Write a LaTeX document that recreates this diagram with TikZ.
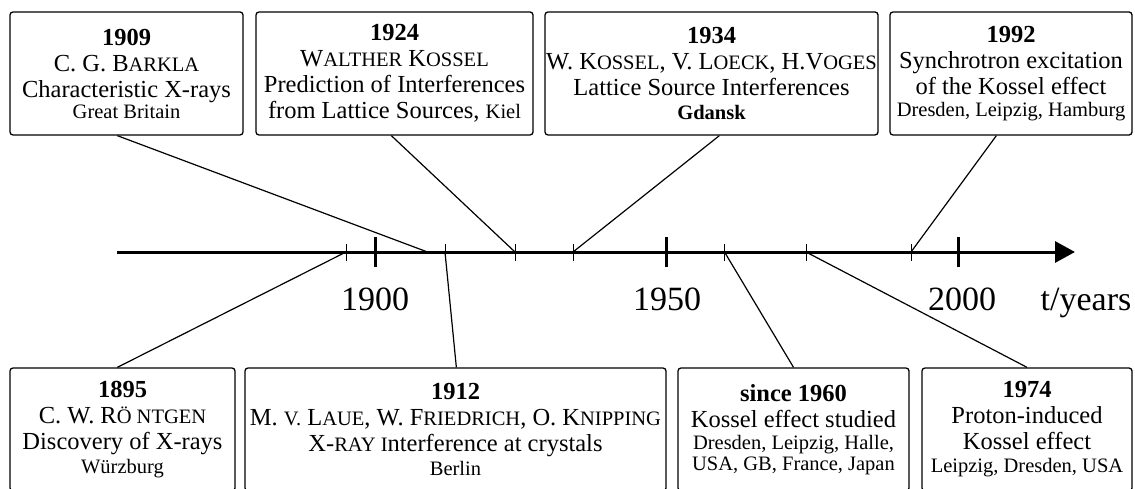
\documentclass[tikz,border=0pt]{standalone}
\usepackage{fontspec}
\setmainfont{Liberation Serif}
\usetikzlibrary{arrows.meta}

\newcommand{\mainsize}{\fontsize{24.5}{26}\selectfont}
\newcommand{\placesize}{\fontsize{20.5}{22}\selectfont}
\newcommand{\fsc}[1]{{\fontsize{20.5}{22}\selectfont\MakeUppercase{#1}}}

\begin{document}
\begin{tikzpicture}[x=1pt,y=-1pt,
    eventbox/.style={draw,rounded corners=3pt,line width=1.3pt,align=center,
                     font=\mainsize,inner sep=0pt,minimum height=123pt},
    link/.style={line width=1.2pt},
    axisline/.style={line width=3pt,-{Triangle[length=20pt,width=21pt]}},
    majortick/.style={line width=3pt},
    minortick/.style={line width=1pt},
    yearlabel/.style={font=\fontsize{34}{34}\selectfont,anchor=base,inner sep=0pt}]
    \useasboundingbox (0,0) rectangle (1135,489);
    \clip (0,0) rectangle (1135,489);

    % events above the axis
    \node[eventbox,minimum width=233pt] (b1909) at (126.5,73.5)
        {\textbf{1909}\\ C. G. B\fsc{arkla}\\ Characteristic X-rays\\[-5pt] {\placesize Great Britain}};
    \node[eventbox,minimum width=277pt] (b1924) at (394.5,73.5)
        {\textbf{1924}\\ W\fsc{alther} K\fsc{ossel}\\ Prediction of Interferences\\ from Lattice Sources, {\placesize Kiel}};
    \node[eventbox,minimum width=333pt] (b1934) at (711.5,73.5)
        {\textbf{1934}\\ W. K\fsc{ossel}, V. L\fsc{oeck}, H.V\fsc{oges}\\ Lattice Source Interferences\\[-2pt] {\placesize\bfseries Gdansk}};
    \node[eventbox,minimum width=242pt] (b1992) at (1011,73.5)
        {\textbf{1992}\\ Synchrotron excitation\\ of the Kossel effect\\[-4pt] {\placesize Dresden, Leipzig, Hamburg}};

    % events below the axis
    \node[eventbox,minimum width=225pt] (b1895) at (122.5,429.5)
        {\textbf{1895}\\ C. W. R\fsc{ö ntgen}\\ Discovery of X-rays\\[-2pt] {\placesize Würzburg}};
    \node[eventbox,minimum width=421pt] (b1912) at (455.5,429.5)
        {\textbf{1912}\\ M. \fsc{v.} L\fsc{aue}, W. F\fsc{riedrich}, O. K\fsc{nipping}\\ X-\fsc{ray i}nterference at crystals\\[-2pt] {\placesize Berlin}};
    \node[eventbox,minimum width=231pt] (b1960) at (793.5,429.5)
        {\textbf{since 1960}\\ Kossel effect studied\\[-4pt] {\placesize Dresden, Leipzig, Halle,}\\[-5pt] {\placesize USA, GB, France, Japan}};
    \node[eventbox,minimum width=210pt] (b1974) at (1027,429.5)
        {\textbf{1974}\\ Proton-induced\\ Kossel effect\\[-3pt] {\placesize Leipzig, Dresden, USA}};

    % time axis
    \coordinate (start) at (117,252);
    \coordinate (tip)   at (1075,252);
    \coordinate (y1895) at (346,252);
    \coordinate (y1900) at (375,252);
    \coordinate (y1909) at (427.5,252);
    \coordinate (y1912) at (445,252);
    \coordinate (y1924) at (515,252);
    \coordinate (y1934) at (573,252);
    \coordinate (y1950) at (666.5,252);
    \coordinate (y1960) at (724.5,252);
    \coordinate (y1974) at (806,252);
    \coordinate (y1992) at (911,252);
    \coordinate (y2000) at (958,252);

    \draw[axisline] (start) -- (tip);
    \draw[majortick] ([yshift=-15pt]y1900) -- ([yshift=15pt]y1900);
    \draw[majortick] ([yshift=-15pt]y1950) -- ([yshift=15pt]y1950);
    \draw[majortick] ([yshift=-15pt]y2000) -- ([yshift=15pt]y2000);
    \draw[minortick] ([yshift=-8.5pt]y1895) -- ([yshift=8.5pt]y1895);
    \draw[minortick] ([yshift=-8.5pt]y1912) -- ([yshift=8.5pt]y1912);
    \draw[minortick] ([yshift=-8.5pt]y1924) -- ([yshift=8.5pt]y1924);
    \draw[minortick] ([yshift=-8.5pt]y1934) -- ([yshift=8.5pt]y1934);
    \draw[minortick] ([yshift=-8.5pt]y1960) -- ([yshift=8.5pt]y1960);
    \draw[minortick] ([yshift=-8.5pt]y1974) -- ([yshift=8.5pt]y1974);
    \draw[minortick] ([yshift=-8.5pt]y1992) -- ([yshift=8.5pt]y1992);

    \node[yearlabel] (l1900) at (375,310) {1900};
    \node[yearlabel] (l1950) at (667,310) {1950};
    \node[yearlabel] (l2000) at (962,310) {2000};
    \node[yearlabel] (unit)  at (1086,310) {t/years};

    % connectors
    \path[link] ([xshift=108pt]b1909.south west) edge (y1909)
                ([xshift=136pt]b1924.south west) edge (y1924)
                ([xshift=175pt]b1934.south west) edge (y1934)
                ([xshift=107pt]b1992.south west) edge (y1992)
                ([xshift=108pt]b1895.north west) edge (y1895)
                ([xshift=212pt]b1912.north west) edge (y1912)
                (b1960.north) edge (y1960)
                (b1974.north) edge (y1974);
\end{tikzpicture}
\end{document}
